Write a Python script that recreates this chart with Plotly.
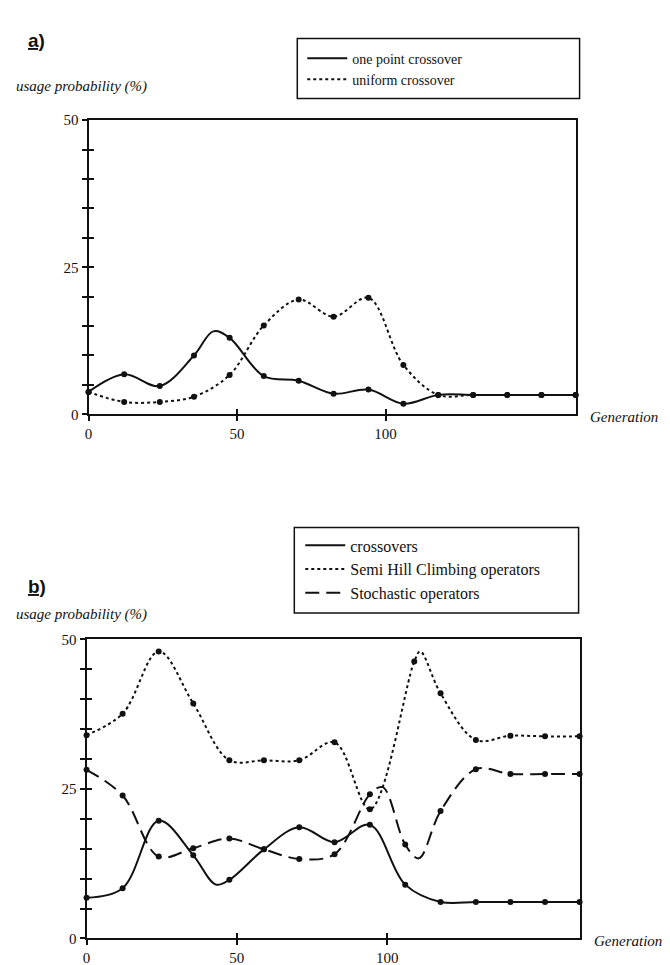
import plotly.graph_objects as go

# ---------------- data ----------------
GEN = [0, 12, 24, 35.5, 47.5, 59, 70.75, 82.5, 94.25, 106, 117.75, 129.5, 141, 152.5, 164]

# panel a : marker values
a_one_point = [3.8, 6.8, 4.8, 10.0, 13.0, 6.5, 5.7, 3.5, 4.2, 1.8, 3.3, 3.3, 3.3, 3.3, 3.3]
a_uniform = [3.8, 2.1, 2.1, 3.0, 6.7, 15.1, 19.5, 16.6, 19.8, 8.4, 3.3, 3.3, 3.3, 3.3, 3.3]
# extra vertices of the smoothed curves
a_one_point_curve_x = [42]
a_one_point_curve_y = [14.1]

# panel b : marker values
GEN_SHC = [0, 12, 24, 35.5, 47.5, 59, 70.75, 82.5, 94.25, 109, 117.75, 129.5, 141, 152.5, 164]
b_crossovers = [6.8, 8.4, 19.7, 13.9, 9.8, 14.9, 18.6, 16.1, 19.0, 9.0, 6.1, 6.1, 6.1, 6.1, 6.1]
b_semi_hill = [34.0, 37.6, 48.0, 39.3, 29.8, 29.8, 29.8, 32.8, 21.6, 46.3, 41.0, 33.2, 33.9, 33.8, 33.8]
b_stochastic = [28.2, 23.9, 13.7, 15.1, 16.7, 14.9, 13.3, 14.1, 24.1, 15.7, 21.3, 28.3, 27.5, 27.5, 27.5]
b_crossovers_curve_x = [43]
b_crossovers_curve_y = [9.0]
b_semi_hill_curve_x = [111]
b_semi_hill_curve_y = [48.0]
b_stochastic_curve_x = [98.5, 110.5]
b_stochastic_curve_y = [25.3, 13.4]

Y_TICKS = [0, 5, 10, 15, 20, 25, 30, 35, 40, 45, 50]
Y_TICK_TEXT = ["0", "", "", "", "", "25", "", "", "", "", "50"]
X_TICKS = [0, 50, 100]
X_TICK_TEXT = ["0", "50", "100"]
X_MAX = 164
Y_MAX = 50

SERIF = "Liberation Serif"
BLACK = "#111111"

fig = go.Figure()


def merged(x, y, ex, ey):
    pts = sorted(list(zip(x, y)) + list(zip(ex, ey)))
    return [p[0] for p in pts], [p[1] for p in pts]


def add_series(x, y, ex, ey, name, dash, xa, ya, legend):
    cx, cy = merged(x, y, ex, ey)
    fig.add_trace(go.Scatter(
        x=cx, y=cy, mode="lines", name=name,
        line=dict(color=BLACK, width=2, dash=dash, shape="spline", smoothing=1.0),
        xaxis=xa, yaxis=ya, legend=legend, cliponaxis=False, hoverinfo="skip"))
    fig.add_trace(go.Scatter(
        x=x, y=y, mode="markers", showlegend=False,
        marker=dict(color=BLACK, size=6, symbol="circle"),
        xaxis=xa, yaxis=ya, cliponaxis=False, hoverinfo="skip"))


add_series(GEN, a_one_point, a_one_point_curve_x, a_one_point_curve_y,
           "one point crossover", "solid", "x", "y", "legend")
add_series(GEN, a_uniform, [], [], "uniform crossover", "dot", "x", "y", "legend")
add_series(GEN, b_crossovers, b_crossovers_curve_x, b_crossovers_curve_y,
           "crossovers", "solid", "x2", "y2", "legend2")
add_series(GEN_SHC, b_semi_hill, b_semi_hill_curve_x, b_semi_hill_curve_y,
           "Semi Hill Climbing operators", "dot", "x2", "y2", "legend2")
add_series(GEN, b_stochastic, b_stochastic_curve_x, b_stochastic_curve_y,
           "Stochastic operators", "14px,7px", "x2", "y2", "legend2")

# empty traces so the overlay axes (inner half of the crossing ticks) get drawn
for xa, ya in (("x3", "y3"), ("x4", "y4")):
    fig.add_trace(go.Scatter(x=[None], y=[None], xaxis=xa, yaxis=ya, showlegend=False,
                             hoverinfo="skip"))

dom_xa = [77 / 670, 567 / 670]
dom_xb = [75 / 670, 571 / 670]
dom_ya = [1 - 405 / 965, 1 - 106 / 965]
dom_yb = [1 - 938 / 965, 1 - 634 / 965]

tickfont = dict(family=SERIF, size=15, color=BLACK)


def xaxis(domain, anchor, overlay=None, inside=False):
    d = dict(domain=domain, anchor=anchor, range=[0, X_MAX], showgrid=False, zeroline=False,
             tickmode="array", tickvals=X_TICKS, ticklen=5, tickwidth=1.5, tickcolor=BLACK,
             fixedrange=True)
    if inside:
        d.update(overlaying=overlay, ticks="inside", showticklabels=False, showline=False)
    else:
        d.update(ticktext=X_TICK_TEXT, ticks="outside", tickfont=tickfont, showline=True,
                 linecolor=BLACK, linewidth=2, mirror=True)
    return d


def yaxis(domain, anchor, overlay=None, inside=False):
    d = dict(domain=domain, anchor=anchor, range=[0, Y_MAX], showgrid=False, zeroline=False,
             tickmode="array", tickvals=Y_TICKS, ticklen=5, tickwidth=1.5, tickcolor=BLACK,
             fixedrange=True)
    if inside:
        d.update(overlaying=overlay, ticks="inside", showticklabels=False, showline=False)
    else:
        d.update(ticktext=Y_TICK_TEXT, ticks="outside", tickfont=tickfont, showline=True,
                 linecolor=BLACK, linewidth=2, mirror=True)
    return d


legend_common = dict(
    bgcolor="rgba(0,0,0,0)", borderwidth=0,
    xanchor="left", yanchor="top", tracegroupgap=0, itemwidth=40,
    traceorder="normal")

fig.update_layout(
    width=670, height=965, autosize=False,
    margin=dict(l=0, r=0, t=0, b=0),
    paper_bgcolor="white", plot_bgcolor="white",
    showlegend=True,
    xaxis=xaxis(dom_xa, "y"),
    yaxis=yaxis(dom_ya, "x"),
    xaxis2=xaxis(dom_xb, "y2"),
    yaxis2=yaxis(dom_yb, "x2"),
    xaxis3=xaxis(dom_xa, "y3", overlay="x", inside=True),
    yaxis3=yaxis(dom_ya, "x3", overlay="y", inside=True),
    xaxis4=xaxis(dom_xb, "y4", overlay="x2", inside=True),
    yaxis4=yaxis(dom_yb, "x4", overlay="y2", inside=True),
    legend=dict(legend_common, x=292 / 670, y=1 - 27 / 965,
                font=dict(family=SERIF, size=14, color=BLACK)),
    legend2=dict(legend_common, x=290 / 670, y=1 - 521 / 965,
                 font=dict(family=SERIF, size=16, color=BLACK)),
    shapes=[
        dict(type="rect", xref="paper", yref="paper", x0=287 / 670, x1=571 / 670,
             y0=1 - 84 / 965, y1=1 - 23 / 965, line=dict(color=BLACK, width=1.5)),
        dict(type="rect", xref="paper", yref="paper", x0=284 / 670, x1=570 / 670,
             y0=1 - 607 / 965, y1=1 - 520 / 965, line=dict(color=BLACK, width=1.5)),
    ],
)

ann_font = dict(family=SERIF, size=15, color=BLACK)
gen_font = dict(family=SERIF, size=15, color=BLACK)
annotations = [
    dict(text="<b><u>a)</u></b>", x=14 / 670, y=1 - 25 / 965, xanchor="left", yanchor="middle",
         font=dict(family="Liberation Sans", size=19, color=BLACK)),
    dict(text="<i>usage probability (%)</i>", x=2 / 670, y=1 - 72 / 965, xanchor="left",
         yanchor="middle", font=ann_font),
    dict(text="<i>Generation</i>", x=579 / 670, y=1 - 408 / 965, xanchor="left", yanchor="middle",
         font=gen_font),
    dict(text="<b><u>b)</u></b>", x=14 / 670, y=1 - 580 / 965, xanchor="left", yanchor="middle",
         font=dict(family="Liberation Sans", size=19, color=BLACK)),
    dict(text="<i>usage probability (%)</i>", x=2 / 670, y=1 - 609 / 965, xanchor="left",
         yanchor="middle", font=ann_font),
    dict(text="<i>Generation</i>", x=583 / 670, y=1 - 941 / 965, xanchor="left", yanchor="middle",
         font=gen_font),
]
for a in annotations:
    a.update(xref="paper", yref="paper", showarrow=False)
fig.update_layout(annotations=annotations)

fig.write_html("out.html")
